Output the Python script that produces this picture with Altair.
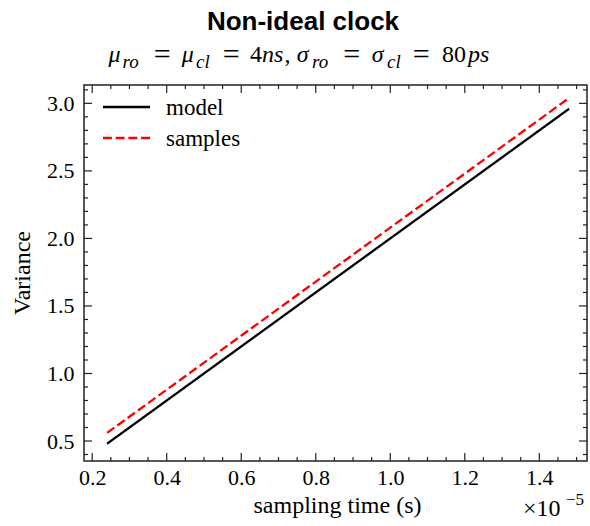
import altair as alt
import pandas as pd

# ---- data ----
sampling_time = [0.24, 0.55, 0.86, 1.17, 1.48]          # x 1e-5 s
model_var = [0.48, 1.10, 1.72, 2.34, 2.96]
samples_var = [0.56, 1.18, 1.80, 2.42, 3.04]
series_names = ["model", "samples"]
series_colors = ["#000000", "#ff0000"]

x_major = [0.2, 0.4, 0.6, 0.8, 1.0, 1.2, 1.4]
x_minor = [0.25, 0.3, 0.35, 0.45, 0.5, 0.55, 0.65, 0.7, 0.75, 0.85, 0.9, 0.95,
           1.05, 1.1, 1.15, 1.25, 1.3, 1.35, 1.45, 1.5]
y_major = [0.5, 1.0, 1.5, 2.0, 2.5, 3.0]
y_minor = [0.4, 0.6, 0.7, 0.8, 0.9, 1.1, 1.2, 1.3, 1.4, 1.6, 1.7, 1.8, 1.9,
           2.1, 2.2, 2.3, 2.4, 2.6, 2.7, 2.8, 2.9, 3.1]

title_text = "Non-ideal clock"
x_title = "sampling time (s)"
y_title = "Variance"

# ---- layout ----
W, H = 503, 376
PAD = {"left": 84, "top": 85, "right": 3, "bottom": 62}
SERIF = "Liberation Serif"
SANS = "Liberation Sans"
FRAME = "#222222"

xs = alt.Scale(domain=[0.178, 1.528], nice=False, zero=False)
ys = alt.Scale(domain=[0.352, 3.136], nice=False, zero=False)

x_axis = alt.Axis(values=x_major, format=".1f", ticks=False, domain=False,
                  grid=False, labelFont=SERIF, labelFontSize=22,
                  labelColor="black", labelPadding=6, labelFlush=False, title=None)
y_axis = alt.Axis(values=y_major, format=".1f", ticks=False, domain=False,
                  grid=False, labelFont=SERIF, labelFontSize=22,
                  labelColor="black", labelPadding=10, labelFlush=False, title=None)

rows = []
for name, vals in zip(series_names, [model_var, samples_var]):
    for t, v in zip(sampling_time, vals):
        rows.append({"t": t, "v": v, "series": name})
df = pd.DataFrame(rows)

lines = alt.Chart(df).mark_line(strokeWidth=2.3).encode(
    x=alt.X("t:Q", scale=xs, axis=x_axis),
    y=alt.Y("v:Q", scale=ys, axis=y_axis),
    color=alt.Color("series:N", scale=alt.Scale(domain=series_names, range=series_colors),
                    legend=None),
    strokeDash=alt.StrokeDash("series:N",
                              scale=alt.Scale(domain=series_names, range=[[1, 0], [8.9, 3.8]]),
                              legend=None),
)

def tick_layer(vals, axis, length, side):
    d = pd.DataFrame({"t": vals, "v": vals})
    m = alt.Chart(d).mark_rule(color=FRAME, strokeWidth=1.2)
    if axis == "x":
        if side == "bottom":
            return m.encode(x=alt.X("t:Q", scale=xs, axis=x_axis), y=alt.value(H), y2=alt.value(H - length))
        return m.encode(x=alt.X("t:Q", scale=xs, axis=x_axis), y=alt.value(0), y2=alt.value(length))
    if side == "left":
        return m.encode(y=alt.Y("v:Q", scale=ys, axis=y_axis), x=alt.value(0), x2=alt.value(length))
    return m.encode(y=alt.Y("v:Q", scale=ys, axis=y_axis), x=alt.value(W), x2=alt.value(W - length))

ticks = [
    tick_layer(x_major, "x", 8, "bottom"), tick_layer(x_major, "x", 8, "top"),
    tick_layer(x_minor, "x", 4, "bottom"), tick_layer(x_minor, "x", 4, "top"),
    tick_layer(y_major, "y", 8, "left"), tick_layer(y_major, "y", 8, "right"),
    tick_layer(y_minor, "y", 4, "left"), tick_layer(y_minor, "y", 4, "right"),
]

one = pd.DataFrame({"a": [0]})

def txt(s, x, y, size, font=SERIF, style="normal", weight="normal", align="center",
        angle=0, baseline="alphabetic"):
    return alt.Chart(one).mark_text(font=font, fontSize=size, fontStyle=style,
                                    fontWeight=weight, align=align, baseline=baseline,
                                    angle=angle, color="black").encode(
        x=alt.value(x), y=alt.value(y), text=alt.value(s))

# title
annots = [txt(title_text, 219, -55, 26, font=SANS, weight="bold")]

# axis titles
annots.append(txt(x_title, 253.5, H + 52, 24))
annots.append(txt(y_title, -61, H / 2, 24, angle=270, baseline="middle"))

# subtitle: mu_ro = mu_cl = 4ns, sigma_ro = sigma_cl = 80ps
MB, SB, EB = -23, -17, -21.5
sub_parts = [
    ("μ", 24.5, MB, 24, "italic", "left"), ("ro", 38.5, SB, 19, "italic", "left"),
    ("=", 78.3, EB, 30, "normal", "center"),
    ("μ", 97.8, MB, 24, "italic", "left"), ("cl", 112, SB, 19, "italic", "left"),
    ("=", 147.2, EB, 30, "normal", "center"),
    ("4", 166, MB, 24, "normal", "left"), ("ns", 178, MB, 24, "italic", "left"),
    (",", 200.5, MB, 24, "normal", "left"),
    ("σ", 212.7, MB, 24, "italic", "left"), ("ro", 228, SB, 19, "italic", "left"),
    ("=", 267.8, EB, 30, "normal", "center"),
    ("σ", 287.7, MB, 24, "italic", "left"), ("cl", 303, SB, 19, "italic", "left"),
    ("=", 337.2, EB, 30, "normal", "center"),
    ("80", 358, MB, 24, "normal", "left"), ("ps", 384, MB, 24, "italic", "left"),
]
for s, x, y, size, style, al in sub_parts:
    annots.append(txt(s, x, y, size, style=style, align=al))

# offset text x10^-5
annots.append(txt("×10", 439, H + 55, 24, align="left"))
annots.append(txt("−5", 482, H + 44, 17, align="left"))

# legend
leg = []
leg_y = [22, 53]
leg_dash = [[1, 0], [8.9, 3.8]]
for name, col, yy, dash in zip(series_names, series_colors, leg_y, leg_dash):
    leg.append(alt.Chart(one).mark_rule(color=col, strokeWidth=2.3, strokeDash=dash).encode(
        x=alt.value(19), x2=alt.value(66), y=alt.value(yy)))
    leg.append(txt(name, 82, yy + 8, 23, align="left"))

chart = alt.layer(lines, *ticks, *annots, *leg).properties(
    width=W, height=H,
    autosize=alt.AutoSizeParams(type="none"),
    padding=PAD,
).configure_view(stroke=FRAME, strokeWidth=1.5)

chart.save("out.html", embed_options={"renderer": "svg", "actions": False})
